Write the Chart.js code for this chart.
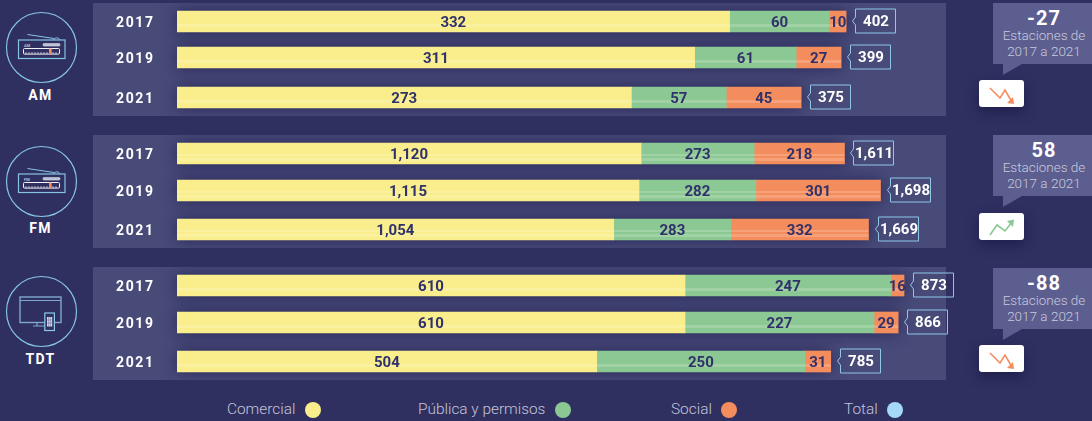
<!DOCTYPE html>
<html lang="es">
<head>
<meta charset="utf-8">
<script src="https://cdn.jsdelivr.net/npm/chart.js@4"></script>
<style>
html,body{margin:0;padding:0;background:#2f3060;width:1092px;height:421px;overflow:hidden;font-family:Roboto,sans-serif}
#stage{position:relative;width:1092px;height:421px;overflow:hidden}
.panel{position:absolute;left:93px;width:853px;height:113px;background:#484a78}
canvas{position:absolute;left:93px}
.abs{position:absolute}
.medium{position:absolute;left:0;width:81px;text-align:center;color:#fff;font-weight:700;font-size:14px;letter-spacing:1.3px;line-height:16px}
.callout{position:absolute;left:993px;width:102px;background:#5b5e8f;height:61px;text-align:center;color:#c9cade;font-size:13.5px;line-height:15.5px;font-weight:300}
.callout b{display:block;color:#fff;font-size:20px;font-weight:700;letter-spacing:1px;line-height:20px;margin-top:5px;margin-bottom:0}
.tail{position:absolute;left:1003px;width:19px;height:11px;background:#5b5e8f;clip-path:polygon(0 0,100% 0,0 100%)}
.btn{position:absolute;left:979px;width:45px;height:27px;background:#fff;border-radius:3px;box-shadow:0 5px 12px rgba(18,18,60,.55)}
.leg{position:absolute;top:400px;font-size:15.4px;font-weight:300;color:#c3c5da;line-height:18px;white-space:nowrap}
.dot{position:absolute;top:402px;width:16px;height:16px;border-radius:50%}
</style>
</head>
<body>
<div id="stage"></div>
<script>
// ---- data ----
const years = ['2017', '2019', '2021'];
const mediums = ['AM', 'FM', 'TDT'];
const seriesNames = ['Comercial', 'Pública y permisos', 'Social', 'Total'];

const amComercial = [332, 311, 273];
const amPublica   = [60, 61, 57];
const amSocial    = [10, 27, 45];
const amTotal     = [402, 399, 375];

const fmComercial = [1120, 1115, 1054];
const fmPublica   = [273, 282, 283];
const fmSocial    = [218, 301, 332];
const fmTotal     = [1611, 1698, 1669];

const tdtComercial = [610, 610, 504];
const tdtPublica   = [247, 227, 250];
const tdtSocial    = [16, 29, 31];
const tdtTotal     = [873, 866, 785];

const changeValues = ['-27', '58', '-88'];
const changeCaption = ['Estaciones de', '2017 a 2021'];

// ---- styles / layout ----
const seriesColors = ['#f9ee8b', '#8cc893', '#f48d5d', '#a6d8f8'];
const ink = '#30316a';
const panelTops = [3, 135, 267];
const rowCenters = [[18.5, 54.5, 94.5], [18.5, 55.5, 94.5], [18.5, 55.5, 94.5]];
const axisMax = [462, 1856, 923.4];
const stripes = [[[13, 3]], [[11, 2], [15, 3]], [[13, 3]]];
const calloutTops = [3, 135, 268];
const btnTops = [80, 213, 345];
const circleCY = [47.5, 181, 311.5];
const mediumLabelY = [87, 220, 351];
const legendText = [227, 418, 671, 844];
const legendDot = [305, 555, 721, 887];

const stage = document.getElementById('stage');
function add(html) { stage.insertAdjacentHTML('beforeend', html); }

function radioIcon(cy, tag) {
  const t = cy - 47.5;
  return `<svg class="abs" style="left:0;top:${t}px" width="84" height="90" fill="none">
   <circle cx="41.5" cy="47.5" r="35" stroke="#86c4e4" stroke-width="1.2"/>
   <path d="M27.5 34.5 L54 38.5" stroke="#86c4e4" stroke-width="1"/>
   <path d="M53.5 40 a3.5 3.5 0 0 1 6.5 0" stroke="#86c4e4" stroke-width="1"/>
   <rect x="18.5" y="40" width="46.5" height="18.5" stroke="#86c4e4" stroke-width="1.2"/>
   <rect x="43" y="43.5" width="17" height="2.6" rx="1" fill="#b9bfd4" stroke="#e8e8f0" stroke-width=".5"/>
   <rect x="23.5" y="48.5" width="36" height="5.6" rx="1" stroke="#f1f1f6" stroke-width="1"/>
   <path d="M26 52v2M29 52v2M32 52v2M35 52v2M38 52v2M41 52v2M44 52v2M47 52v2M53 52v2M56 52v2" stroke="#e8e8f0" stroke-width=".7"/>
   <rect x="49" y="48.5" width="2.7" height="5.6" fill="#f48d5d"/>
   <text x="24" y="46.5" font-family="Roboto" font-size="4" font-weight="700" fill="#b9bfd4">${tag}</text>
  </svg>`;
}
function tvIcon(cy) {
  const t = cy - 47.5;
  return `<svg class="abs" style="left:0;top:${t}px" width="84" height="90" fill="none">
   <circle cx="41.5" cy="47.5" r="35" stroke="#86c4e4" stroke-width="1.2"/>
   <rect x="20" y="33" width="41" height="25.5" stroke="#7fa8cc" stroke-width="1.4"/>
   <path d="M20 36.5H61" stroke="#7fa8cc" stroke-width="1"/>
   <path d="M33 62H45M37 59v3" stroke="#7fa8cc" stroke-width="1.2"/>
   <rect x="44.8" y="49" width="9.6" height="17.5" fill="#2f3060" stroke="#8cc8ea" stroke-width="1.2"/>
   <rect x="47" y="53" width="5.2" height="9.5" fill="#d8dbe8"/>
   <path d="M48.7 53v9.5M50.4 53v9.5M47 56h5M47 59h5" stroke="#5b5e8f" stroke-width=".5"/>
  </svg>`;
}
function trendIcon(up) {
  const c = up ? '#8cc893' : '#f48d5d';
  const pts = up ? '11,22 18,12 26,18 33,9' : '11,8 21,18 26,10 33,22';
  const head = up ? '28,8 35,6.5 34,14' : '34,17 35,24 28,23';
  return `<svg width="45" height="27" fill="none" style="display:block"><polyline points="${pts}" stroke="${c}" stroke-width="1.6"/><polygon points="${head}" fill="${c}"/></svg>`;
}

const seriesByMedium = [
  [amComercial, amPublica, amSocial, amTotal],
  [fmComercial, fmPublica, fmSocial, fmTotal],
  [tdtComercial, tdtPublica, tdtSocial, tdtTotal]
];

mediums.forEach((m, k) => {
  add(`<div class="panel" style="top:${panelTops[k]}px"></div>`);
  add(k < 2 ? radioIcon(circleCY[k], m) : tvIcon(circleCY[k]));
  add(`<div class="medium" style="top:${mediumLabelY[k]}px">${m}</div>`);
  add(`<div class="callout" style="top:${calloutTops[k]}px"><b>${changeValues[k]}</b>${changeCaption[0]}<br>${changeCaption[1]}</div>`);
  add(`<div class="tail" style="top:${calloutTops[k] + 61}px"></div>`);
  add(`<div class="btn" style="top:${btnTops[k]}px">${trendIcon(parseFloat(changeValues[k]) > 0)}</div>`);
});

seriesNames.forEach((n, i) => {
  add(`<div class="leg" style="left:${legendText[i]}px">${n}</div>`);
  add(`<div class="dot" style="left:${legendDot[i]}px;background:${seriesColors[i]}"></div>`);
});

const decor = {
  id: 'decor',
  beforeDraw(chart) { chart.ctx.letterSpacing = '1.6px'; },
  beforeDatasetsDraw(chart) {
    const { ctx, scales: { x, y } } = chart;
    const o = chart.options.plugins.decor;
    ctx.save();
    ctx.letterSpacing = '0px';
    ctx.shadowColor = 'rgba(28,28,78,.75)';
    ctx.shadowBlur = 16;
    ctx.fillStyle = '#3a3b6b';
    o.total.forEach((t, j) => {
      const yc = y.getPixelForValue(o.rows[j]);
      ctx.fillRect(x.getPixelForValue(0), yc - 10.5, x.getPixelForValue(t) - x.getPixelForValue(0), 21);
    });
    ctx.restore();
  },
  afterDatasetsDraw(chart) {
    const { ctx, scales: { x, y } } = chart;
    const o = chart.options.plugins.decor;
    ctx.save();
    ctx.letterSpacing = '0px';
    // light stripes and value labels inside every bar segment
    chart.data.datasets.forEach((ds, i) => {
      chart.getDatasetMeta(i).data.forEach((bar, j) => {
        const left = Math.min(bar.base, bar.x), w = Math.abs(bar.x - bar.base);
        const top = bar.y - 10.5;
        ctx.fillStyle = 'rgba(255,255,255,.18)';
        o.stripes.forEach(s => ctx.fillRect(left, top + s[0], w, s[1]));
      });
    });
    ctx.font = '700 15px Roboto';
    ctx.textAlign = 'center';
    ctx.textBaseline = 'middle';
    ctx.fillStyle = ink;
    chart.data.datasets.forEach((ds, i) => {
      chart.getDatasetMeta(i).data.forEach((bar, j) => {
        ctx.fillText(ds.data[j].x.toLocaleString('en-US'), (bar.base + bar.x) / 2, bar.y + 1.5);
      });
    });
    // total tags
    o.total.forEach((t, j) => {
      const yc = y.getPixelForValue(o.rows[j]) - 0.5;
      const bx = Math.round(x.getPixelForValue(t)) + 9.5, bw = 40, h = 24;
      ctx.strokeStyle = '#8fc6e8';
      ctx.lineWidth = 1;
      ctx.beginPath();
      ctx.moveTo(bx, yc - 4);
      ctx.lineTo(bx, yc - h / 2);
      ctx.lineTo(bx + bw, yc - h / 2);
      ctx.lineTo(bx + bw, yc + h / 2);
      ctx.lineTo(bx, yc + h / 2);
      ctx.lineTo(bx, yc + 4);
      ctx.lineTo(bx - 3, yc);
      ctx.closePath();
      ctx.stroke();
      ctx.fillStyle = '#fff';
      ctx.fillText(t.toLocaleString('en-US'), bx + bw / 2 + 0.5, yc + 1);
    });
    ctx.restore();
  }
};

mediums.forEach((m, k) => {
  const cv = document.createElement('canvas');
  cv.width = 900; cv.height = 113;
  cv.style.top = panelTops[k] + 'px';
  stage.appendChild(cv);
  const rows = rowCenters[k];
  const series = seriesByMedium[k];
  new Chart(cv, {
    type: 'bar',
    data: {
      datasets: seriesNames.slice(0, 3).map((n, i) => ({
        label: n,
        data: series[i].map((v, j) => ({ x: v, y: rows[j] })),
        backgroundColor: seriesColors[i],
        barThickness: 21,
        borderWidth: 0
      }))
    },
    options: {
      indexAxis: 'y',
      responsive: false,
      animation: false,
      devicePixelRatio: 1,
      layout: { padding: { left: 23, right: 47, top: 0, bottom: 0 } },
      scales: {
        x: { type: 'linear', display: false, stacked: true, min: 0, max: axisMax[k] },
        y: {
          type: 'linear', stacked: true, reverse: true, min: 0, max: 113, offset: false,
          grid: { display: false, offset: false }, border: { display: false },
          afterBuildTicks(s) { s.ticks = rows.map(v => ({ value: v })); },
          afterFit(s) { s.width = 61; s.paddingTop = 0; s.paddingBottom = 0; },
          ticks: {
            autoSkip: false, crossAlign: 'far', color: '#fff', labelOffset: 2,
            font: { family: 'Roboto', size: 14, weight: '700' },
            callback: v => years[rows.indexOf(v)]
          }
        }
      },
      plugins: {
        legend: { display: false }, tooltip: { enabled: false },
        decor: { total: series[3], rows, stripes: stripes[k] }
      }
    },
    plugins: [decor]
  });
});
</script>
</body>
</html>
